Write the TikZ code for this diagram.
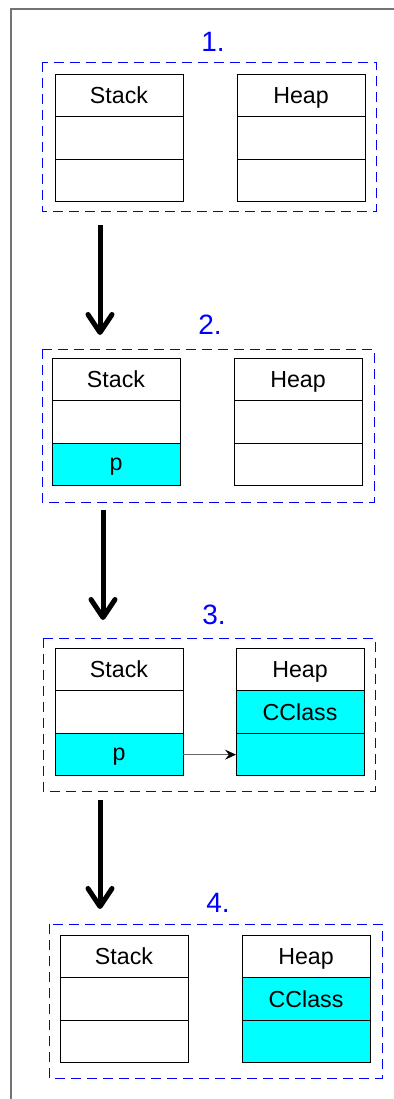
\documentclass[tikz,border=0pt]{standalone}
\usepackage{fontspec}
\setmainfont{Liberation Sans}
\usetikzlibrary{arrows.meta,positioning}

\definecolor{cellcyan}{RGB}{0,255,255}

\tikzset{
  cell/.style={draw, line width=0.5pt, outer sep=0pt, inner sep=0pt,
    minimum width=64pt, minimum height=21.33pt, text depth=0pt,
    font=\fontsize{11.6}{14}\selectfont},
  used/.style={cell, fill=cellcyan},
  stepframe/.style={draw=blue, line width=0.5pt, dash pattern=on 5pt off 3pt},
  steplabel/.style={text=blue, anchor=base, font=\fontsize{14}{16}\selectfont},
  flow/.style={line width=2.5pt,
    -{Straight Barb[length=9pt, width=12pt, round]}},
  ptr/.style={draw=gray!80!black, line width=0.5pt,
    -{Stealth[length=5.5pt, width=5pt, inset=2pt, black]}},
}

\begin{document}
\begin{tikzpicture}[x=0.5pt, y=-0.5pt]
    \useasboundingbox (0, 0) rectangle (394, 1099);
    \draw[gray!90!black, line width=0.8pt] (11, 1099) -- (11, 9) -- (394, 9);

    % 1. empty stack and heap
    \node[steplabel] (n1) at (213, 51) {1.};
    \draw[stepframe] (42, 62) rectangle (376, 211);
    \node[cell, anchor=north west] (s1a) at (55, 74) {Stack};
    \node[cell, below=0pt of s1a] (s1b) {};
    \node[cell, below=0pt of s1b] (s1c) {};
    \node[cell, anchor=north west] (h1a) at (237, 74) {Heap};
    \node[cell, below=0pt of h1a] (h1b) {};
    \node[cell, below=0pt of h1b] (h1c) {};

    \coordinate (a1from) at (100, 225);
    \coordinate (a1to) at (100, 335);
    \draw[flow] (a1from) -- (a1to);

    % 2. pointer on the stack
    \node[steplabel] (n2) at (210, 334) {2.};
    \draw[stepframe] (42, 349) rectangle (374, 502);
    \node[cell, anchor=north west] (s2a) at (52, 358) {Stack};
    \node[cell, below=0pt of s2a] (s2b) {};
    \node[used, below=0pt of s2b] (s2c) {p};
    \node[cell, anchor=north west] (h2a) at (234, 358) {Heap};
    \node[cell, below=0pt of h2a] (h2b) {};
    \node[cell, below=0pt of h2b] (h2c) {};

    \coordinate (a2from) at (103, 510);
    \coordinate (a2to) at (103, 620);
    \draw[flow] (a2from) -- (a2to);

    % 3. object allocated, p points to it
    \node[steplabel] (n3) at (214, 624) {3.};
    \draw[stepframe] (43, 638) rectangle (375, 791);
    \node[cell, anchor=north west] (s3a) at (55, 648) {Stack};
    \node[cell, below=0pt of s3a] (s3b) {};
    \node[used, below=0pt of s3b] (s3c) {p};
    \node[cell, anchor=north west] (h3a) at (236, 648) {Heap};
    \node[used, below=0pt of h3a] (h3b) {CClass};
    \node[used, below=0pt of h3b] (h3c) {};
    \draw[ptr] (s3c.east) -- (h3c.west);

    \coordinate (a3from) at (100, 800);
    \coordinate (a3to) at (100, 909);
    \draw[flow] (a3from) -- (a3to);

    % 4. p gone, object left on the heap
    \node[steplabel] (n4) at (218, 912) {4.};
    \draw[stepframe] (49, 924) rectangle (382, 1078);
    \node[cell, anchor=north west] (s4a) at (60, 935) {Stack};
    \node[cell, below=0pt of s4a] (s4b) {};
    \node[cell, below=0pt of s4b] (s4c) {};
    \node[cell, anchor=north west] (h4a) at (242, 935) {Heap};
    \node[used, below=0pt of h4a] (h4b) {CClass};
    \node[used, below=0pt of h4b] (h4c) {};
\end{tikzpicture}
\end{document}
